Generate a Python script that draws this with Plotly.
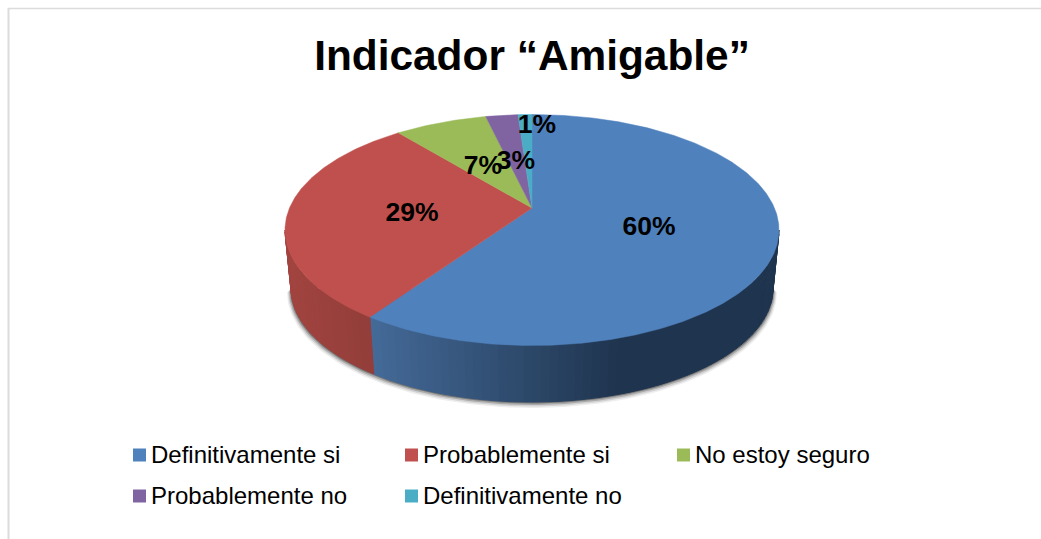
import numpy as np
import plotly.graph_objects as go

# data
categories = ["Definitivamente si", "Probablemente si", "No estoy seguro",
              "Probablemente no", "Definitivamente no"]
percent_labels = [60, 29, 7, 3, 1]
# shares as the slices are actually drawn (the tilted pie distorts them a bit)
slice_shares = [61.4, 29.5, 6.1, 2.1, 0.9]
colours = ["#4F81BD", "#C0504D", "#9BBB59", "#8064A2", "#4BACC6"]

W, H = 1041, 539

# pie geometry in page pixels
CX, CY, RX, RY = 532, 230, 247, 115.5      # top face
BX, BY, BRX, BRY = 532, 288, 241, 114      # bottom rim
APEX = (532, 208)
LABEL_XY = [(649, 228), (412, 214), (483, 167), (516, 162), (537, 126)]
LEGEND_XY = [(139.5, 455), (411.5, 455), (683.5, 455), (139.5, 496), (411.5, 496)]


def rim(deg, cx=CX, cy=CY, rx=RX, ry=RY):
    rad = np.radians(deg)
    return cx + rx * np.sin(rad), cy - ry * np.cos(rad)


def mix(c1, c2, t):
    return "rgb(%d,%d,%d)" % tuple(a + (b - a) * t for a, b in zip(c1, c2))


def side_colour(i, x):
    # blue side gets darker to the right, red side is almost flat
    if i == 0:
        return mix((68, 106, 152), (31, 52, 78), min(max((x - 372) / 250, 0), 1))
    return mix((162, 68, 64), (146, 62, 58), min(max((x - 288) / 85, 0), 1))


fig = go.Figure()

# soft shadow under the front edge
for grow, alpha in [(4, 0.08), (3, 0.14), (2, 0.24), (1, 0.38)]:
    a = np.linspace(90, 270, 121)
    xs, ys = rim(a, BX, BY + grow, BRX + grow, BRY + grow * 0.5)
    fig.add_trace(go.Scatter(
        x=np.r_[xs, xs[0]], y=np.r_[ys, ys[0]], mode="lines", fill="toself",
        line=dict(width=0), fillcolor=f"rgba(40,40,40,{alpha})",
        hoverinfo="skip", showlegend=False,
    ))

edges = np.r_[0, np.cumsum(slice_shares)] * 3.6

# side wall, cut in thin strips for the shading
for i in range(len(categories)):
    start, stop = max(edges[i], 90), min(edges[i + 1], 270)
    if stop <= start:
        continue
    steps = np.arange(start, stop, 2.0)
    for s in steps:
        e = min(s + 2.0, stop)
        a = np.linspace(s, e, 4)
        tx, ty = rim(a)
        bx, by = rim(a[::-1], BX, BY, BRX, BRY)
        colour = side_colour(i, tx.mean())
        fig.add_trace(go.Scatter(
            x=np.r_[tx, bx, tx[0]], y=np.r_[ty, by, ty[0]], mode="lines", fill="toself",
            line=dict(width=1, color=colour), fillcolor=colour,
            hoverinfo="skip", showlegend=False,
        ))

# top face
for i, name in enumerate(categories):
    a = np.linspace(edges[i], edges[i + 1], max(int(edges[i + 1] - edges[i]) * 2, 6))
    xs, ys = rim(a)
    fig.add_trace(go.Scatter(
        x=np.r_[APEX[0], xs, APEX[0]], y=np.r_[APEX[1], ys, APEX[1]],
        mode="lines", fill="toself", line=dict(width=0.5, color=colours[i]),
        fillcolor=colours[i], name=name, hoverinfo="name", showlegend=False,
    ))

# percent labels
fig.add_trace(go.Scatter(
    x=[p[0] for p in LABEL_XY], y=[p[1] for p in LABEL_XY], mode="text",
    text=[f"<b>{v}%</b>" for v in percent_labels], textposition="middle center",
    textfont=dict(family="Liberation Sans", size=26.5, color="#000000"),
    hoverinfo="skip", showlegend=False,
))

# legend, two rows with wide gaps
for i, name in enumerate(categories):
    fig.add_trace(go.Scatter(
        x=[LEGEND_XY[i][0]], y=[LEGEND_XY[i][1]], mode="markers",
        marker=dict(symbol="square", size=13, color=colours[i]),
        hoverinfo="skip", showlegend=False,
    ))
    fig.add_trace(go.Scatter(
        x=[LEGEND_XY[i][0] + 11.5], y=[LEGEND_XY[i][1] + 2], mode="text",
        text=[name], textposition="middle right",
        textfont=dict(family="Liberation Sans", size=24, color="#000000"),
        hoverinfo="skip", showlegend=False,
    ))

fig.update_layout(
    width=W, height=H,
    margin=dict(l=0, r=0, t=0, b=0),
    paper_bgcolor="#ffffff", plot_bgcolor="#ffffff",
    showlegend=False,
    xaxis=dict(range=[0, W], visible=False, fixedrange=True),
    yaxis=dict(range=[H, 0], visible=False, fixedrange=True),
    title=dict(text="<b>Indicador “Amigable”</b>", x=532 / W, xanchor="center",
               y=1 - 55 / H, yanchor="middle",
               font=dict(family="Liberation Sans", size=42.4, color="#000000")),
    shapes=[
        dict(type="line", xref="x", yref="y", x0=8, x1=W, y0=8.5, y1=8.5,
             line=dict(color="#dcdcdc", width=1.5)),
        dict(type="line", xref="x", yref="y", x0=8.5, x1=8.5, y0=8, y1=H,
             line=dict(color="#dcdcdc", width=2)),
    ],
)

fig.write_html("out.html", config={"displayModeBar": False},
               post_script="document.body.style.margin='0';document.body.style.overflow='hidden';")
